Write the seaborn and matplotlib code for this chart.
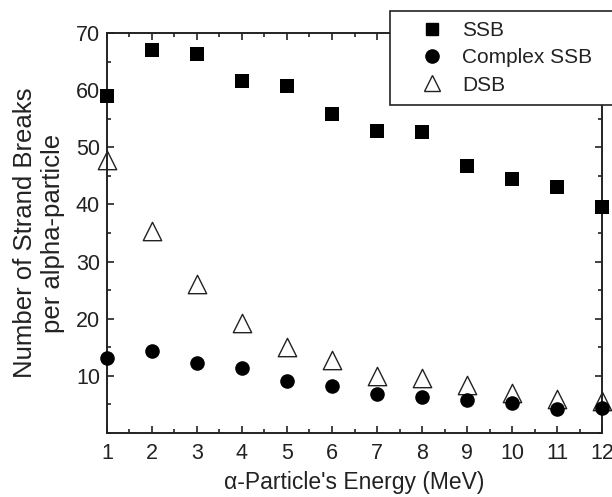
import matplotlib
matplotlib.use("Agg")
import matplotlib.pyplot as plt
from matplotlib.ticker import MultipleLocator
from matplotlib.lines import Line2D
import seaborn as sns
import pandas as pd

energy = [1, 2, 3, 4, 5, 6, 7, 8, 9, 10, 11, 12]
ssb = [59.0, 67.0, 66.3, 61.6, 60.7, 55.8, 52.8, 52.7, 46.8, 44.5, 43.0, 39.6]
complex_ssb = [13.1, 14.4, 12.3, 11.4, 9.1, 8.2, 6.9, 6.3, 5.7, 5.3, 4.2, 4.4]
dsb = [47.8, 35.3, 26.0, 19.2, 15.0, 12.8, 10.0, 9.6, 8.4, 7.0, 5.9, 5.6]
series_names = ["SSB", "Complex SSB", "DSB"]

sns.set_style("ticks")
plt.rcParams["font.family"] = ["Liberation Sans", "DejaVu Sans"]

fig = plt.figure(figsize=(6.12, 4.97), dpi=100)
ax = fig.add_axes([0.1748, 0.1288, 0.8089, 0.8048])

df = pd.DataFrame({"E": energy, "SSB": ssb, "Complex SSB": complex_ssb, "DSB": dsb})

sns.scatterplot(data=df, x="E", y="SSB", marker="s", s=100, color="black",
                edgecolor="black", linewidth=0, ax=ax, zorder=3, clip_on=False)
sns.scatterplot(data=df, x="E", y="Complex SSB", marker="o", s=110, color="black",
                edgecolor="black", linewidth=0, ax=ax, zorder=3, clip_on=False)
sns.scatterplot(data=df, x="E", y="DSB", marker="^", s=175, facecolor="white",
                edgecolor="#222222", linewidth=1.0, ax=ax, zorder=2, clip_on=False)

ax.set_xlim(1, 12)
ax.set_ylim(0, 70)
ax.xaxis.set_major_locator(MultipleLocator(1))
ax.xaxis.set_minor_locator(MultipleLocator(0.5))
ax.set_yticks([10, 20, 30, 40, 50, 60, 70])
ax.yaxis.set_minor_locator(MultipleLocator(5))
ax.tick_params(which="both", direction="in", top=True, right=True,
               labelsize=15.5, width=1.2, colors="#222222")
ax.tick_params(which="major", length=5)
ax.tick_params(which="minor", length=3)
ax.tick_params(axis="x", pad=7)
ax.tick_params(axis="y", pad=5)
for sp in ax.spines.values():
    sp.set_visible(True)
    sp.set_linewidth(1.4)
    sp.set_color("#222222")

ax.set_xlabel("\u03b1-Particle's Energy (MeV)", fontsize=16.5, color="#222222", labelpad=5)
ax.set_ylabel("Number of Strand Breaks\nper alpha-particle", fontsize=18.5,
              color="#222222", labelpad=8, linespacing=1.2)

handles = [
    Line2D([], [], linestyle="none", marker="s", markersize=9, color="black"),
    Line2D([], [], linestyle="none", marker="o", markersize=9.5, color="black"),
    Line2D([], [], linestyle="none", marker="^", markersize=11,
           markerfacecolor="white", markeredgecolor="#222222", markeredgewidth=1.0),
]
leg = fig.legend(handles, series_names, loc="upper left",
                 bbox_to_anchor=(0.638, 0.75, 0.37, 0.228), mode="expand",
                 fontsize=15, frameon=True,
                 fancybox=False, framealpha=1, edgecolor="#222222",
                 borderpad=0.5, labelspacing=0.39, handletextpad=0.0,
                 handlelength=2.95, borderaxespad=0)
leg.get_frame().set_linewidth(1.2)
for t in leg.get_texts():
    t.set_color("#222222")

fig.savefig("out.png", dpi=100)
